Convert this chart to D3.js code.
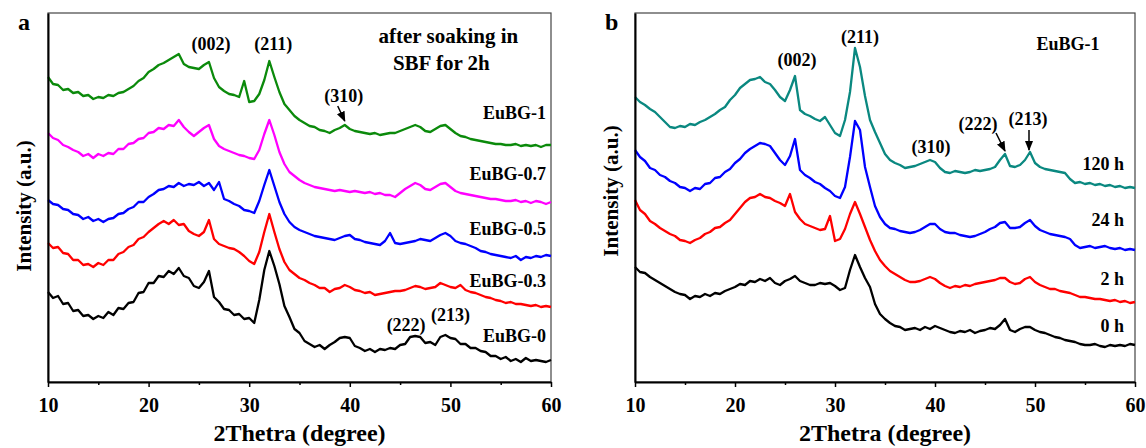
<!DOCTYPE html>
<html>
<head>
<meta charset="utf-8">
<script src="https://cdn.jsdelivr.net/npm/d3@7"></script>
<style>
body { margin: 0; background: #fff; }
text { font-family: "Liberation Serif", "Times New Roman", serif; font-weight: bold; fill: #000; }
</style>
</head>
<body>
<script>
// 2theta sampling grid, 10..60 deg every 0.5 deg
const theta = d3.range(10, 60.25, 0.5);

// panel a: after soaking in SBF for 2h (stacked intensities, a.u.)
const eubg0 = [90,84,86,78,79,71,72,66,67,63,66,64,70,67,74,73,79,80,89,90,
  99,99,106,105,111,108,114,106,104,96,94,100,111,85,80,73,72,67,68,63,
  64,59,82,112,131,116,98,76,65,53,49,41,38,35,37,33,37,40,44,45,
  44,36,34,31,33,30,33,32,34,33,37,38,45,46,45,39,40,37,45,47,
  44,43,38,38,34,34,31,30,26,26,23,25,21,23,20,24,21,22,21,20,22];
const eubg03 = [139,134,135,129,128,122,122,117,118,115,119,117,122,122,128,130,135,137,143,145,
  150,154,158,161,158,162,157,158,151,148,146,150,162,143,138,136,134,133,130,126,
  121,118,130,150,168,150,133,120,112,108,104,102,99,97,94,94,90,93,94,97,
  95,92,91,89,90,87,88,89,90,91,91,92,94,96,95,93,94,95,99,97,
  95,94,97,92,90,89,87,85,84,82,81,79,80,78,78,77,76,77,75,76,75];
const eubg05 = [182,178,177,173,172,168,167,163,165,161,163,160,163,164,168,169,173,175,180,180,
  185,188,192,193,196,195,199,196,198,197,200,196,199,192,200,183,181,178,176,172,
  171,169,181,197,212,196,180,168,160,155,152,150,148,146,145,144,143,142,144,146,
  147,143,142,140,139,138,137,141,149,139,138,139,140,141,143,142,141,144,147,149,
  146,141,139,138,136,134,131,130,128,127,126,125,124,126,122,125,124,126,125,127,126];
const eubg07 = [249,244,242,237,235,232,230,226,228,224,228,226,229,228,233,233,238,239,243,244,
  249,250,254,253,257,256,262,255,250,246,250,254,257,243,236,233,231,229,227,226,
  224,223,232,248,262,247,230,218,210,206,202,199,197,195,194,193,192,191,192,191,
  190,191,190,189,190,188,189,187,187,185,189,193,196,199,197,193,192,195,198,199,
  195,191,189,188,187,186,185,184,183,183,182,181,181,182,180,181,179,181,180,178,180];
const eubg1 = [305,298,297,292,293,289,290,286,287,283,285,284,287,286,289,290,293,296,301,304,
  310,313,317,319,322,325,328,318,315,314,313,317,320,304,295,291,288,287,285,301,
  280,281,288,302,321,305,290,278,272,266,262,259,256,255,252,251,249,252,254,257,
  253,251,250,249,248,249,247,248,249,249,251,253,255,257,255,251,250,253,256,257,
  253,249,246,245,243,242,241,240,239,238,238,237,237,238,236,237,236,237,235,237,237];

// panel b: EuBG-1 after different soaking times
const h0 = [115,110,109,105,102,99,96,93,90,88,87,83,86,85,88,86,89,88,91,93,
  95,98,97,101,100,103,101,104,99,97,101,103,106,101,99,97,97,99,98,99,
  96,92,94,112,127,115,104,95,78,68,63,59,56,55,52,53,54,52,55,53,
  56,54,52,50,49,51,50,52,49,51,52,54,53,57,63,52,50,53,55,55,
  52,50,49,47,45,44,42,41,40,38,37,37,38,36,35,37,36,37,36,38,37];
const h2 = [182,172,168,161,158,154,151,148,146,142,141,139,142,144,148,150,154,155,159,162,
  168,174,180,184,185,188,185,184,181,179,176,188,170,163,158,156,154,152,153,166,
  141,143,153,168,180,168,155,142,131,122,116,111,108,105,102,100,100,101,103,105,
  103,99,96,94,96,95,97,96,98,99,100,101,102,104,104,100,98,99,103,105,
  100,97,95,93,93,91,90,89,87,85,85,84,83,83,82,81,82,80,81,79,80];
const h24 = [232,225,221,214,212,207,205,201,199,195,194,191,194,193,198,199,204,205,210,213,
  219,223,229,233,236,239,238,236,229,222,217,226,243,212,207,204,200,198,194,191,
  186,184,195,225,261,252,215,195,176,165,158,154,153,151,150,149,150,152,155,158,
  158,153,150,149,149,147,146,145,146,148,150,153,155,159,160,154,154,155,159,162,
  156,152,150,148,147,146,145,143,137,134,135,136,134,135,136,134,133,134,132,133,132];
const h120 = [285,280,277,273,270,265,260,255,254,256,255,258,257,260,262,265,268,272,275,282,
  287,294,298,302,303,305,300,298,292,285,281,292,306,272,268,266,263,261,265,257,
  249,246,262,290,334,315,286,262,250,239,228,222,219,217,214,215,216,218,220,222,
  220,214,210,209,211,210,209,210,212,211,212,213,215,222,228,216,215,217,222,230,
  219,215,213,212,211,210,209,203,199,200,198,199,197,198,196,197,195,196,194,195,194];

const seriesA = [
  {name: "EuBG-0", values: eubg0, color: "#000000", labelY: 40},
  {name: "EuBG-0.3", values: eubg03, color: "#ff0000", labelY: 95},
  {name: "EuBG-0.5", values: eubg05, color: "#0000ff", labelY: 147},
  {name: "EuBG-0.7", values: eubg07, color: "#ff00ff", labelY: 202},
  {name: "EuBG-1", values: eubg1, color: "#0b8a0b", labelY: 263}
];
const seriesB = [
  {name: "0 h", values: h0, color: "#000000", labelY: 50},
  {name: "2 h", values: h2, color: "#ff0000", labelY: 97},
  {name: "24 h", values: h24, color: "#0000ff", labelY: 156},
  {name: "120 h", values: h120, color: "#0a8880", labelY: 212}
];

// peak labels: [text, 2theta, intensity]
const peaksA = [["(002)", 26.2, 332], ["(211)", 32.4, 332], ["(310)", 39.4, 280],
  ["(222)", 45.6, 51], ["(213)", 50.0, 61]];
const peaksB = [["(002)", 26.2, 316], ["(211)", 32.5, 339], ["(310)", 39.6, 229],
  ["(222)", 44.3, 252], ["(213)", 49.3, 257]];
// arrows: [x1, y1, x2, y2] in data units
const arrowsA = [[38.8, 276, 39.5, 261]];
const arrowsB = [[46.1, 249, 47.0, 231], [49.4, 252, 49.4, 232]];

const majorTicks = [10, 20, 30, 40, 50, 60];
const minorTicks = [15, 25, 35, 45, 55];

const width = 1146, height = 448;
const plotTop = 13, plotBottom = 382;

const svg = d3.select("body").append("svg")
  .attr("width", width).attr("height", height);

svg.append("defs").append("marker")
  .attr("id", "arrow").attr("viewBox", "0 0 10 10")
  .attr("refX", 9).attr("refY", 5)
  .attr("markerWidth", 7).attr("markerHeight", 7)
  .attr("orient", "auto")
  .append("path").attr("d", "M0,1 L10,5 L0,9 z").attr("fill", "#000");

function drawPanel(left, right, series, peaks, arrows, letter, titleY, labelX) {
  let x = d3.scaleLinear().domain([10, 60]).range([left, right]);
  let y = d3.scaleLinear().domain([0, plotBottom - plotTop]).range([plotBottom, plotTop]);
  let g = svg.append("g");

  // thin frame on top and right
  g.append("rect").attr("x", left).attr("y", plotTop)
    .attr("width", right - left).attr("height", plotBottom - plotTop)
    .attr("fill", "none").attr("stroke", "#444").attr("stroke-width", 1.2);

  let line = d3.line().x((d, i) => x(theta[i])).y(d => y(d));
  g.selectAll("path.trace").data(series).enter().append("path")
    .attr("class", "trace")
    .attr("d", d => line(d.values))
    .attr("fill", "none")
    .attr("stroke", d => d.color)
    .attr("stroke-width", 2.3)
    .attr("stroke-linejoin", "round");

  let xAxis = g.append("g").attr("transform", `translate(0,${plotBottom})`)
    .call(d3.axisBottom(x).tickValues(majorTicks).tickSize(5).tickSizeOuter(0).tickPadding(11));
  xAxis.select(".domain").attr("stroke-width", 2);
  xAxis.selectAll(".tick line").attr("stroke-width", 1.5);
  xAxis.selectAll("text").style("font-size", "20px");

  let xMinor = g.append("g").attr("transform", `translate(0,${plotBottom})`)
    .call(d3.axisBottom(x).tickValues(minorTicks).tickSize(3).tickFormat(""));
  xMinor.select(".domain").remove();
  xMinor.selectAll(".tick line").attr("stroke-width", 1.5);

  let yAxis = g.append("g").attr("transform", `translate(${left},0)`)
    .call(d3.axisLeft(y).tickValues([]).tickSizeOuter(0));
  yAxis.select(".domain").attr("stroke-width", 2);

  // series labels
  g.selectAll("text.series").data(series).enter().append("text")
    .attr("class", "series")
    .attr("x", x(labelX))
    .attr("y", d => y(d.labelY))
    .attr("text-anchor", "end")
    .style("font-size", "18px")
    .text(d => d.name);

  g.selectAll("text.peak").data(peaks).enter().append("text")
    .attr("class", "peak")
    .attr("x", d => x(d[1])).attr("y", d => y(d[2]))
    .attr("text-anchor", "middle")
    .style("font-size", "18px")
    .text(d => d[0]);

  g.selectAll("line.arrow").data(arrows).enter().append("line")
    .attr("class", "arrow")
    .attr("x1", d => x(d[0])).attr("y1", d => y(d[1]))
    .attr("x2", d => x(d[2])).attr("y2", d => y(d[3]))
    .attr("stroke", "#000").attr("stroke-width", 1.5)
    .attr("marker-end", "url(#arrow)");

  g.append("text").attr("x", (left + right) / 2).attr("y", 441)
    .attr("text-anchor", "middle").style("font-size", "24px")
    .text("2Thetra (degree)");

  g.append("text")
    .attr("transform", `translate(${left - 17},${titleY}) rotate(-90)`)
    .attr("text-anchor", "middle").style("font-size", "21px")
    .text("Intensity (a.u.)");

  g.append("text").attr("x", left - 30).attr("y", 30)
    .attr("text-anchor", "start").style("font-size", "24px")
    .text(letter);

  return {x: x, y: y, g: g};
}

let pa = drawPanel(48, 551, seriesA, peaksA, arrowsA, "a", 206, 59.5);
let pb = drawPanel(635, 1135, seriesB, peaksB, arrowsB, "b", 191, 58.9);

pa.g.append("text").attr("x", pa.x(49.8)).attr("y", pa.y(339))
  .attr("text-anchor", "middle").style("font-size", "21px")
  .text("after soaking in");
pa.g.append("text").attr("x", pa.x(49.1)).attr("y", pa.y(312))
  .attr("text-anchor", "middle").style("font-size", "21px")
  .text("SBF for 2h");
pb.g.append("text").attr("x", pb.x(53.3)).attr("y", pb.y(332))
  .attr("text-anchor", "middle").style("font-size", "18px")
  .text("EuBG-1");
</script>
</body>
</html>
